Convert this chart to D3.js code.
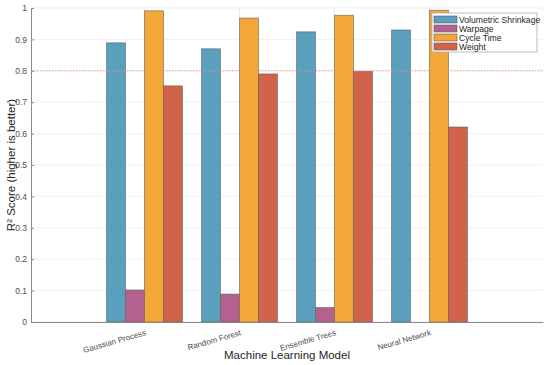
<!DOCTYPE html>
<html>
<head>
<meta charset="utf-8">
<script src="https://cdn.jsdelivr.net/npm/d3@7"></script>
<style>
  body { margin: 0; background: #fff; }
  text { font-family: "Liberation Sans", Arial, sans-serif; }
</style>
</head>
<body>
<figure id="r2chart" style="margin:0"></figure>
<script>
// data
var models = ["Gaussian Process", "Random Forest", "Ensemble Trees", "Neural Network"];
var targets = ["Volumetric Shrinkage", "Warpage", "Cycle Time", "Weight"];
var shrinkage = [0.889, 0.870, 0.924, 0.930];
var warpage = [0.102, 0.089, 0.046, null];
var cycleTime = [0.991, 0.968, 0.977, 0.993];
var weight = [0.752, 0.790, 0.798, 0.621];
var yTicks = [0, 0.1, 0.2, 0.3, 0.4, 0.5, 0.6, 0.7, 0.8, 0.9, 1];
var threshold = 0.8;

var colors = ["#5a9fbe", "#b5618f", "#f4a736", "#d2634b"];

var W = 550, H = 365;
var margin = {top: 8, right: 7, bottom: 43, left: 31},
    width = W - margin.left - margin.right,
    height = H - margin.top - margin.bottom;

var svg = d3.select("figure#r2chart")
    .append("svg")
    .attr("width", W)
    .attr("height", H)
    .append("g")
    .attr("transform", "translate(" + margin.left + "," + margin.top + ")");

// build rows from the arrays
var series = [shrinkage, warpage, cycleTime, weight];
var data = models.map(function(m, i) {
    return {model: m, values: targets.map(function(t, j) { return {key: t, idx: j, value: series[j][i]}; })};
});

var x = d3.scaleBand()
    .domain(models)
    .range([0, width])
    .paddingInner(0.2)
    .paddingOuter(0.795);

var xSub = d3.scaleBand()
    .domain(targets)
    .range([0, x.bandwidth()]);

var y = d3.scaleLinear()
    .domain([0, 1])
    .range([height, 0]);

// grid
svg.append("g")
    .selectAll("line")
    .data(yTicks)
    .enter().append("line")
    .attr("x1", 0).attr("x2", width)
    .attr("y1", function(d) { return y(d); })
    .attr("y2", function(d) { return y(d); })
    .attr("stroke", "#ebebeb")
    .attr("stroke-width", 0.8);

svg.append("g")
    .selectAll("line")
    .data(models)
    .enter().append("line")
    .attr("x1", function(d) { return x(d) + x.bandwidth() / 2; })
    .attr("x2", function(d) { return x(d) + x.bandwidth() / 2; })
    .attr("y1", 0).attr("y2", height)
    .attr("stroke", "#ebebeb")
    .attr("stroke-width", 0.8);

// bars
svg.append("g")
    .selectAll("g")
    .data(data)
    .enter().append("g")
    .attr("transform", function(d) { return "translate(" + x(d.model) + ",0)"; })
    .selectAll("rect")
    .data(function(d) { return d.values.filter(function(v) { return v.value != null; }); })
    .enter().append("rect")
    .attr("x", function(d) { return xSub(d.key); })
    .attr("y", function(d) { return y(d.value); })
    .attr("width", xSub.bandwidth())
    .attr("height", function(d) { return height - y(d.value); })
    .attr("fill", function(d) { return colors[d.idx]; })
    .attr("stroke", "#5c5c5c")
    .attr("stroke-opacity", 0.8)
    .attr("stroke-width", 0.7);

// threshold line
svg.append("line")
    .attr("x1", 0).attr("x2", width)
    .attr("y1", y(threshold)).attr("y2", y(threshold))
    .attr("stroke", "#f08a8a")
    .attr("stroke-width", 0.8)
    .attr("stroke-dasharray", "1.5,1.5");

// y axis
var yAxis = svg.append("g")
    .call(d3.axisLeft(y).tickValues(yTicks).tickSize(-3).tickSizeOuter(0).tickPadding(4)
        .tickFormat(function(d) { return d3.format("")(d); }));
yAxis.select(".domain").attr("stroke", "#8a8a8a");
yAxis.selectAll(".tick line").attr("stroke", "#8a8a8a");
yAxis.selectAll(".tick text").attr("fill", "#4d4d4d").style("font-size", "8.5px");

// x axis
var xAxis = svg.append("g")
    .attr("transform", "translate(0," + height + ")")
    .call(d3.axisBottom(x).tickSize(0).tickSizeOuter(0));
xAxis.select(".domain").attr("stroke", "#8a8a8a");
xAxis.selectAll(".tick text")
    .attr("fill", "#4d4d4d")
    .style("font-size", "8px")
    .attr("text-anchor", "end")
    .attr("dy", 0)
    .attr("y", 0)
    .attr("transform", "translate(2,13) rotate(-16)");

// axis titles
svg.append("text")
    .attr("x", width / 2)
    .attr("y", height + 37)
    .attr("text-anchor", "middle")
    .attr("fill", "#262626")
    .style("font-size", "11.5px")
    .text("Machine Learning Model");

svg.append("text")
    .attr("transform", "translate(-16," + (height / 2) + ") rotate(-90)")
    .attr("text-anchor", "middle")
    .attr("fill", "#262626")
    .style("font-size", "11.5px")
    .text("R² Score (higher is better)");

// legend
var legend = svg.append("g")
    .attr("transform", "translate(" + (432 - margin.left) + "," + (13 - margin.top) + ")");
legend.append("rect")
    .attr("width", 105).attr("height", 39)
    .attr("fill", "#fff")
    .attr("stroke", "#a0a0a0")
    .attr("stroke-width", 0.7);
var items = legend.selectAll("g.item")
    .data(targets)
    .enter().append("g")
    .attr("class", "item")
    .attr("transform", function(d, i) { return "translate(2," + (3 + i * 9) + ")"; });
items.append("rect")
    .attr("width", 23).attr("height", 7)
    .attr("fill", function(d, i) { return colors[i]; })
    .attr("stroke", "#5c5c5c")
    .attr("stroke-width", 0.6);
items.append("text")
    .attr("x", 25).attr("y", 6.8)
    .attr("fill", "#262626")
    .style("font-size", "8.6px")
    .text(function(d) { return d; });
</script>
</body>
</html>
